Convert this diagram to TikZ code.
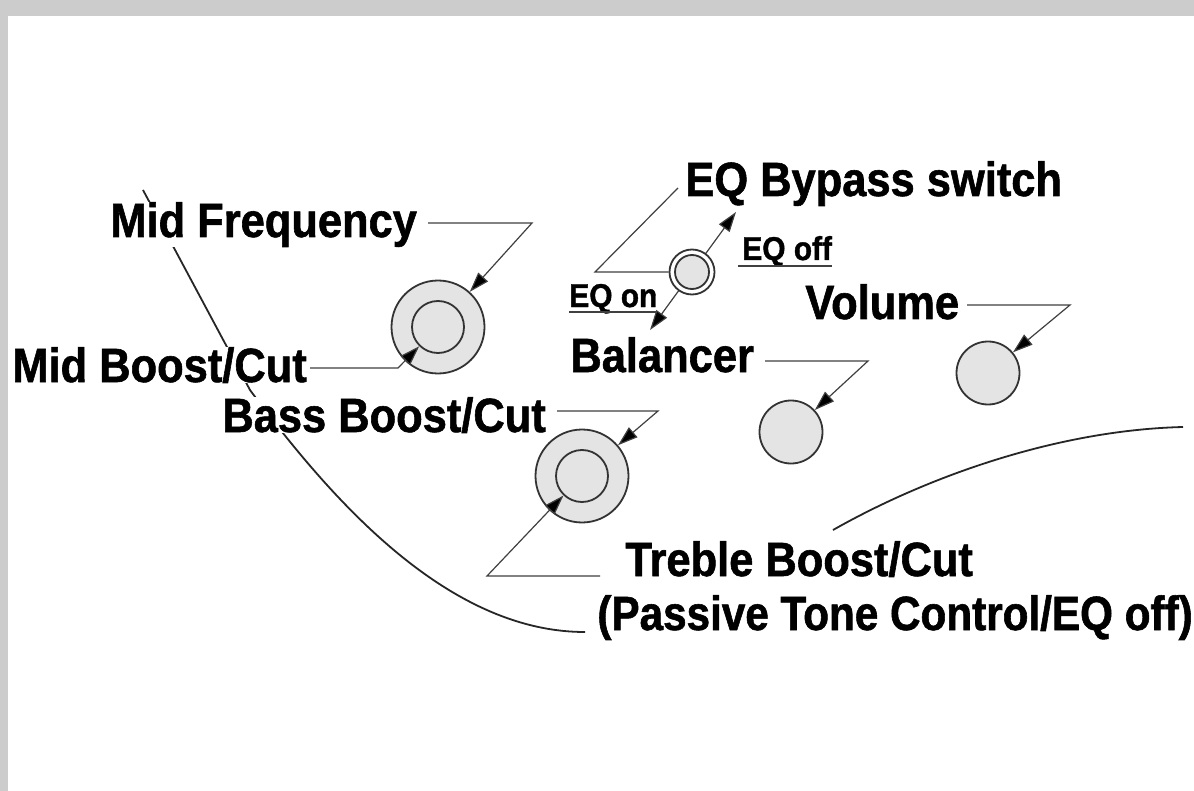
\documentclass[tikz,border=0pt]{standalone}
\usepackage{fontspec}
\setmainfont{Liberation Sans}[FakeStretch=0.905,FakeBold=1.2]
\newfontfamily\narrowfont{Liberation Sans}[FakeStretch=0.88,FakeBold=1.2]
\usepackage{tikz}
\usetikzlibrary{arrows.meta}
\definecolor{knobgray}{HTML}{E4E4E4}
\definecolor{framegray}{HTML}{CCCCCC}

\begin{document}
\begin{tikzpicture}[x=0.5pt,y=-0.5pt,
    tag/.style={font=\bfseries\fontsize{24}{28}\selectfont, inner sep=0pt, fill=white, anchor=base west},
    smalltag/.style={font=\bfseries\fontsize{16.5}{20}\selectfont, inner sep=0pt, anchor=base west},
    knob/.style={circle, draw=black!80, fill=knobgray, line width=0.9pt, inner sep=0pt},
    lead/.style={draw=black!75, line width=0.6pt},
    pointer/.style={lead, -{Triangle[length=10pt,width=6.5pt,fill=black]}},
    body/.style={draw=black!85, line width=0.9pt}]
  % frame
  \fill[framegray] (0,0) rectangle (1194,791);
  \fill[white] (8,16) rectangle (1194,791);
  \useasboundingbox (0,0) rectangle (1194,791);

  % edge of the body, partly hidden by the labels
  \draw[body] (143,190) -- (250,390) .. controls (335,505) and (450,632) .. (585,632);
  \draw[body] (833,530) .. controls (930,475) and (1060,430) .. (1183,427);

  % labels
  \node[tag] (mfT) at (110,237) {Mid Frequency};
  \node[tag] (mbT) at (12,382) {Mid Boost/Cut};
  \node[tag] (bbT) at (222,432) {Bass Boost/Cut};
  \node[tag] (ebT) at (685,196) {EQ Bypass switch};
  \node[tag] (voT) at (805,319) {Volume};
  \node[tag] (baT) at (570,372) {Balancer};
  \node[tag] (trT) at (625,576) {Treble Boost/Cut};
  \node[tag, font=\narrowfont\bfseries\fontsize{24}{28}\selectfont] (paT) at (597,630) {(Passive Tone Control/EQ off)};
  \node[smalltag] (eqon) at (569,307) {EQ on};
  \node[smalltag] (eqoff) at (742,260) {EQ off};
  \draw[lead] ([yshift=-2.5pt]eqon.base west) -- ([yshift=-2.5pt]eqon.base east);
  \draw[lead] ([xshift=-2pt,yshift=-3pt]eqoff.base west) -- ([yshift=-3pt]eqoff.base east);

  % switch
  \coordinate (swOn) at (650,330);
  \coordinate (swOff) at (736,212);
  \draw[lead, {Triangle[length=10pt,width=6.5pt,fill=black]}-{Triangle[length=10pt,width=6.5pt,fill=black]}] (swOn) -- (swOff);
  \node[knob, fill=white, minimum size=22.5pt] (swO) at (692,272) {};
  \node[knob, minimum size=17pt] (swI) at (692,272) {};

  % knobs
  \foreach \name/\pos in {mf/{438,327}, bb/{582,476}}{
    \node[knob, minimum size=46.5pt] (\name O) at (\pos) {};
    \node[knob, minimum size=26pt] (\name I) at (\pos) {};
  }
  \foreach \name/\pos in {baK/{791,432}, voK/{988,373}}
    \node[knob, minimum size=31.5pt] (\name) at (\pos) {};

  % leaders
  \coordinate (mfA) at (428,223);  \coordinate (mfB) at (532,223);
  \coordinate (mbA) at (310,368);  \coordinate (mbB) at (398,368);
  \coordinate (bbA) at (557,411);  \coordinate (bbB) at (658,411);
  \coordinate (trA) at (600,576);  \coordinate (trB) at (487,576);
  \coordinate (baA) at (765,361);  \coordinate (baB) at (868,361);
  \coordinate (voA) at (967,305);  \coordinate (voB) at (1070,305);
  \coordinate (ebA) at (595,272);  \coordinate (ebB) at (678,188);
  \draw[pointer] (mfA) -- (mfB) -- (mfO);
  \draw[pointer] (mbA) -- (mbB) -- (mfI);
  \draw[pointer] (bbA) -- (bbB) -- (bbO);
  \draw[pointer] (trA) -- (trB) -- (bbI);
  \draw[pointer] (baA) -- (baB) -- (baK);
  \draw[pointer] (voA) -- (voB) -- (voK);
  \draw[lead] (swO) -- (ebA) -- (ebB);
\end{tikzpicture}
\end{document}
